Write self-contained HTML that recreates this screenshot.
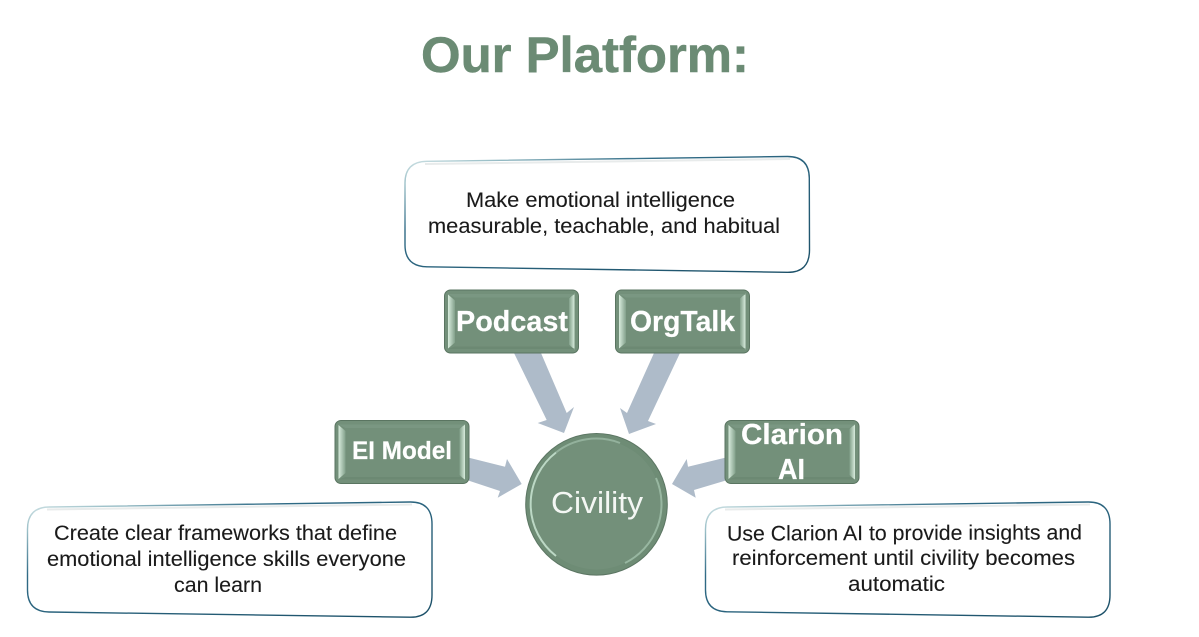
<!DOCTYPE html>
<html><head><meta charset="utf-8"><style>
html,body{margin:0;padding:0;background:#fff;width:1199px;height:637px;overflow:hidden}
svg{display:block;filter:blur(.3px)}
text{font-family:"Liberation Sans",sans-serif}
.c{font-size:21px;fill:#1a1a1a;stroke:#1a1a1a;stroke-width:.1}
.b{font-weight:bold;fill:#fff;stroke:#fff;stroke-width:.2}
</style></head><body>
<svg width="1199" height="637" viewBox="0 0 1199 637" xmlns="http://www.w3.org/2000/svg">
<defs>
<linearGradient id="l" x1="0" y1="0" x2="1" y2="1"><stop offset="0" stop-color="#d5e6e8"/><stop offset=".12" stop-color="#9cc0c8"/><stop offset=".32" stop-color="#2f6a85"/><stop offset="1" stop-color="#1c5068"/></linearGradient>
<linearGradient id="sl" x1="0" y1="0" x2="1" y2="0"><stop offset="0" stop-color="#d8ecdd"/><stop offset="1" stop-color="#82a08a"/></linearGradient>
<linearGradient id="sr" x1="0" y1="0" x2="1" y2="0"><stop offset="0" stop-color="#82a08a"/><stop offset="1" stop-color="#d8ecdd"/></linearGradient>
<g id="btn">
<rect x=".5" y=".5" width="134" height="63" rx="6" fill="#73907a" stroke="#5a7561"/>
<polygon points="4,5 11,11 11,53 4,59" fill="url(#sl)"/>
<polygon points="130.500,4 125,9 125,55 130.500,60" fill="url(#sr)"/>
<polygon points="4,4.500 131,4.500 125,8 11,8" fill="#7a9782"/>
<polygon points="4,59.500 131,59.500 125,57 11,57" fill="#6c8973"/>
</g>
</defs>
<rect width="1199" height="637" fill="#fff"/>
<text x="421" y="72" font-size="50" font-weight="bold" fill="#6b8b74" stroke="#6b8b74" stroke-width=".5" textLength="328" lengthAdjust="spacingAndGlyphs">Our Platform:</text>

<line x1="425" y1="164" x2="790" y2="159" stroke="#e8ebeb" stroke-width="2"/>
<path d="M427 161.300 L787 156.500 Q809 156.200 809.300 178 L809.500 250 Q809.500 272.800 787 272.300 L427 266.800 Q405 266.400 405 245 L405 183 Q405 161.600 427 161.300Z" fill="none" stroke="url(#l)" stroke-width="1.400"/>
<text class="c" x="466" y="207" textLength="269" lengthAdjust="spacingAndGlyphs">Make emotional intelligence</text>
<text class="c" x="428" y="233" textLength="352" lengthAdjust="spacingAndGlyphs">measurable, teachable, and habitual</text>

<line x1="47" y1="509.500" x2="412" y2="504.500" stroke="#e8ebeb" stroke-width="2"/>
<path d="M49 507 L410 502 Q432 501.700 432 524 L432 595 Q432 617.600 410 617.200 L49 612 Q27.500 611.600 27.500 590 L27.500 529 Q27.500 507.300 49 507Z" fill="none" stroke="url(#l)" stroke-width="1.400"/>
<text class="c" x="54" y="540" textLength="343" lengthAdjust="spacingAndGlyphs">Create clear frameworks that define</text>
<text class="c" x="47" y="566" textLength="359" lengthAdjust="spacingAndGlyphs">emotional intelligence skills everyone</text>
<text class="c" x="174" y="592" textLength="88" lengthAdjust="spacingAndGlyphs">can learn</text>

<line x1="725" y1="509.500" x2="1090" y2="504.500" stroke="#e8ebeb" stroke-width="2"/>
<path d="M727 507 L1088 502 Q1110 501.700 1110 524 L1110 595 Q1110 617.600 1088 617.200 L727 611.800 Q705.500 611.400 705.500 590 L705.500 529 Q705.500 507.300 727 507Z" fill="none" stroke="url(#l)" stroke-width="1.400"/>
<text class="c" x="727" y="540" textLength="355" lengthAdjust="spacingAndGlyphs" transform="rotate(-.2 904 535)">Use Clarion AI to provide insights and</text>
<text class="c" x="732" y="565" textLength="343" lengthAdjust="spacingAndGlyphs">reinforcement until civility becomes</text>
<text class="c" x="848" y="591" textLength="97" lengthAdjust="spacingAndGlyphs">automatic</text>

<g fill="#aebbc9">
<polygon points="514,353 541,353 566.700,413 574,407 564,433 537.700,423 546.700,420"/>
<polygon points="654,353 680,353 648,421 656,424 629,434 620,408 627,413"/>
<polygon points="469,457.700 505,466.700 507,459 521.700,484 497.700,497.700 500,491 469,480.700"/>
<polygon points="725,457.700 688,466.700 686.700,459 672,484 695.700,497.700 694,490 725,480.700"/>
</g>

<use href="#btn" x="444" y="289.500"/>
<use href="#btn" x="615" y="289.500"/>
<use href="#btn" x="334.500" y="420"/>
<use href="#btn" x="724.500" y="420"/>

<text class="b" x="456" y="331" font-size="29" textLength="112" lengthAdjust="spacingAndGlyphs">Podcast</text>
<text class="b" x="630" y="331" font-size="29" textLength="105" lengthAdjust="spacingAndGlyphs">OrgTalk</text>
<text class="b" x="352" y="459" font-size="25" textLength="100" lengthAdjust="spacingAndGlyphs">EI Model</text>
<text class="b" x="741" y="444" font-size="29" textLength="102" lengthAdjust="spacingAndGlyphs">Clarion</text>
<text class="b" x="778" y="479" font-size="29" textLength="27" lengthAdjust="spacingAndGlyphs">AI</text>

<circle cx="596.500" cy="504.300" r="70.800" fill="#6e8c75" stroke="#5c7663" stroke-width="1"/>
<circle cx="596.500" cy="504.500" r="65" fill="#73907a"/>
<path d="M556 556 A65.500 65.500 0 0 1 556 452.500" fill="none" stroke="#bcd8c5" stroke-width="2"/>
<path d="M556 452.500 A65.500 65.500 0 0 1 620 443" fill="none" stroke="#93b19c" stroke-width="2"/>
<path d="M656 478 A65.500 65.500 0 0 1 625 563" fill="none" stroke="#98b7a1" stroke-width="2"/>
<text x="551" y="513" font-size="31" fill="#f4f7f4" textLength="92" lengthAdjust="spacingAndGlyphs">Civility</text>
</svg>
</body></html>
